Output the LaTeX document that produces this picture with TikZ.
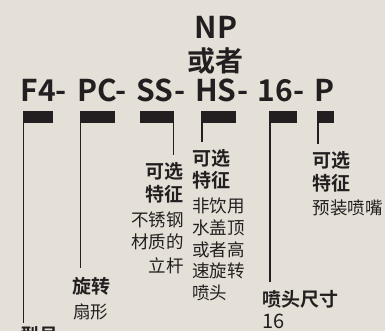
\documentclass[tikz,border=0pt]{standalone}
\usepackage{fontspec}
\setmainfont{Noto Sans CJK SC}[BoldFont={Noto Sans CJK SC Bold}]
\definecolor{bgc}{HTML}{E4E0D7}
\definecolor{ink}{HTML}{231F20}
\tikzset{
  code/.style={inner sep=0pt, text=ink, font=\fontsize{30bp}{36bp}\selectfont\bfseries, anchor=base west},
  hd/.style={inner sep=0pt, text=ink, font=\fontsize{19bp}{22bp}\selectfont\bfseries},
  tx/.style={inner sep=0pt, text=ink, font=\fontsize{17.5bp}{21bp}\selectfont},
  bar/.style={fill=ink, draw=none, inner sep=0pt, minimum height=11.7bp, anchor=north west},
  lead/.style={draw=ink, line width=1.5bp}
}
\begin{document}
\begin{tikzpicture}[x=1bp, y=-1bp]
\fill[bgc] (0,0) rectangle (385,331);
\useasboundingbox (0,0) rectangle (385,331);
\begin{scope}
\clip (0,0) rectangle (385,331);
% top
\node[code, anchor=base] (np) at (216,38) {NP};
\node[inner sep=0pt, text=ink, font=\fontsize{28bp}{30bp}\selectfont\bfseries, anchor=base] (huo) at (215.5,71) {或者};
% code line
\node[code] (c1) at (20.5,101.7) {F4-};
\node[code] (c2) at (77,101.7) {PC-};
\node[code] (c3) at (136.5,101.7) {SS-};
\node[code] (c4) at (195,101.7) {HS-};
\node[code] (c5) at (257.5,101.7) {16-};
\node[code] (c6) at (314,101.7) {P};
% bars
\node[bar, minimum width=30bp] (b1) at (22.7,111) {};
\node[bar, minimum width=35bp] (b2) at (79.5,111) {};
\node[bar, minimum width=34bp] (b3) at (140,111) {};
\node[bar, minimum width=35bp] (b4) at (201.2,111) {};
\node[bar, minimum width=28bp] (b5) at (269,111) {};
\node[bar, minimum width=17bp] (b6) at (317,111) {};
% leader ends
\coordinate (e1) at (23.45,323);
\coordinate (e2) at (80.25,268);
\coordinate (e3) at (173.25,155);
\coordinate (e4) at (201.95,141.7);
\coordinate (e5) at (269.75,281.7);
\coordinate (e6) at (317.75,144);
\draw[lead] (b1.south west -| e1) -- (e1);
\draw[lead] (b2.south west -| e2) -- (e2);
\draw[lead] (b3.south east -| e3) -- (e3);
\draw[lead] (b4.south west -| e4) -- (e4);
\draw[lead] (b5.south west -| e5) -- (e5);
\draw[lead] (b6.south west -| e6) -- (e6);
% SS labels
\node[hd, anchor=base east] (s1) at (184,178.7) {可选};
\node[hd, anchor=base east] (s2) at (184,201.7) {特征};
\node[tx, anchor=base east] (s3) at (184,226.8) {不锈钢};
\node[tx, anchor=base east] (s4) at (184,248.8) {材质的};
\node[tx, anchor=base east] (s5) at (184,272.8) {立杆};
% HS labels
\node[hd, anchor=base west] (h1) at (192,165.4) {可选};
\node[hd, anchor=base west] (h2) at (192,187) {特征};
\node[tx, anchor=base west] (h3) at (192,212.7) {非饮用};
\node[tx, anchor=base west] (h4) at (192,234.5) {水盖顶};
\node[tx, anchor=base west] (h5) at (192,256) {或者高};
\node[tx, anchor=base west] (h6) at (192,277.5) {速旋转};
\node[tx, anchor=base west] (h7) at (192,299) {喷头};
% P labels
\node[hd, anchor=base west] (p1) at (312.6,167) {可选};
\node[hd, anchor=base west] (p2) at (312.6,190.7) {特征};
\node[tx, anchor=base west] (p3) at (312.6,214.7) {预装喷嘴};
% 16 labels
\node[hd, anchor=base west] (n1) at (262.6,306.7) {喷头尺寸};
\node[inner sep=0pt, text=ink, font=\fontsize{20bp}{24bp}\selectfont, anchor=base west] (n2) at (262.5,328) {16};
% PC labels
\node[hd, anchor=base west] (r1) at (72.6,293.7) {旋转};
\node[tx, anchor=base west] (r2) at (73.3,318.7) {扇形};
% F4 label
\node[hd, anchor=base west] (f1) at (20,342.5) {型号};
\end{scope}
\end{tikzpicture}
\end{document}
